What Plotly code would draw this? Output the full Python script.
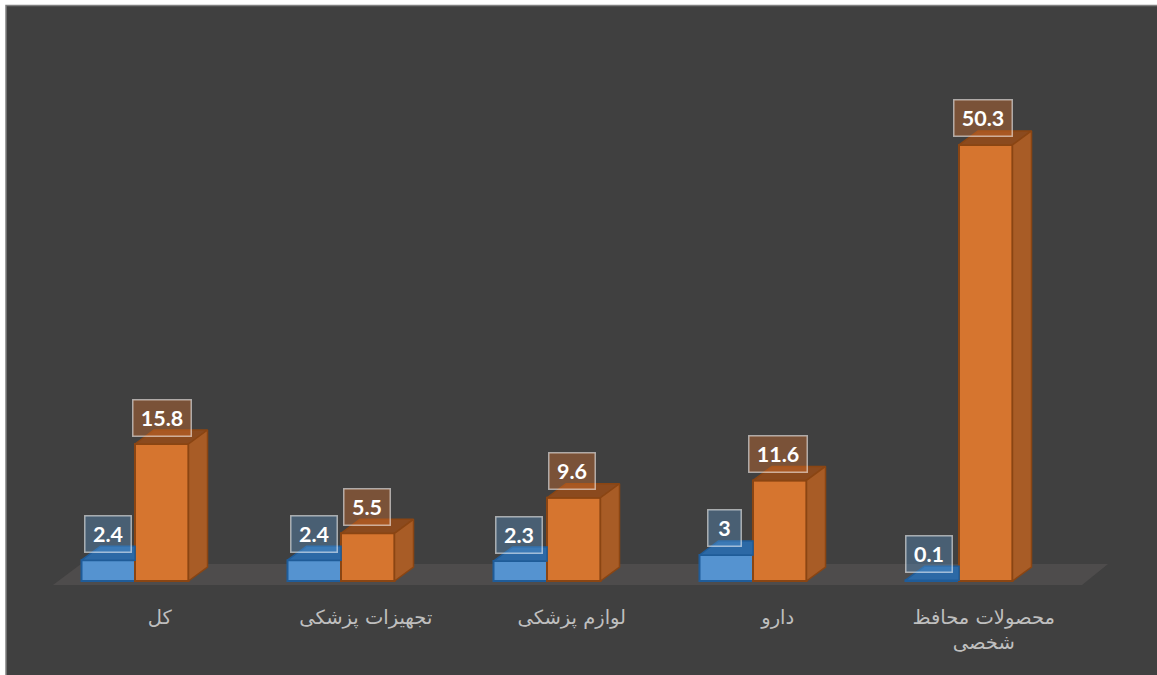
import plotly.graph_objects as go

categories = ["کل", "تجهیزات پزشکی", "لوازم پزشکی", "دارو", "محصولات محافظ<br>شخصی"]
series_blue = [2.4, 2.4, 2.3, 3, 0.1]
series_orange = [15.8, 5.5, 9.6, 11.6, 50.3]

W, H = 1157, 675
PLOT_BOTTOM = 590
BASE_PX = 581
PX_PER_UNIT = 8.67
X0_PX = 135
CAT_PX = 206


def xu(px):
    return (px - X0_PX) / CAT_PX


def yu(px):
    return (BASE_PX - px) / PX_PER_UNIT


BAR_W = 53.5 / CAT_PX
DX = 19 / CAT_PX
DY = 14 / PX_PER_UNIT
idx = list(range(len(categories)))

BLUE, BLUE_LINE, BLUE_TOP = "#5593d0", "#1f5c99", "#2c69a6"
ORANGE, ORANGE_LINE, ORANGE_TOP, ORANGE_SIDE = "#d6752f", "#8a4513", "#8b4a1e", "#a85c26"


def polys(list_of_polys):
    xs, ys = [], []
    for p in list_of_polys:
        for a, b in p + [p[0]]:
            xs.append(a)
            ys.append(b)
        xs.append(None)
        ys.append(None)
    return xs, ys


def face(name, plist, fill, line):
    xs, ys = polys(plist)
    return go.Scatter(x=xs, y=ys, mode="lines", fill="toself", fillcolor=fill,
                      line=dict(color=line, width=1.5), hoverinfo="skip",
                      showlegend=False, name=name)


fig = go.Figure()
fig.add_trace(go.Bar(x=idx, y=series_blue, width=BAR_W, offset=-BAR_W, marker=dict(color=BLUE, line=dict(color=BLUE_LINE, width=2)), showlegend=False))
fig.add_trace(go.Bar(x=idx, y=series_orange, width=BAR_W, offset=0, marker=dict(color=ORANGE, line=dict(color=ORANGE_LINE, width=2)), showlegend=False))

fig.add_trace(face("blue top",
                   [[(i - BAR_W, v), (i, v), (i, v + DY), (i - BAR_W + DX, v + DY)]
                    for i, v in zip(idx, series_blue)], BLUE_TOP, BLUE_LINE))
fig.add_trace(face("orange top",
                   [[(i, v), (i + BAR_W, v), (i + BAR_W + DX, v + DY), (i + DX, v + DY)]
                    for i, v in zip(idx, series_orange)], ORANGE_TOP, ORANGE_LINE))
fig.add_trace(face("orange side",
                   [[(i + BAR_W, 0), (i + BAR_W + DX, DY), (i + BAR_W + DX, v + DY), (i + BAR_W, v)]
                    for i, v in zip(idx, series_orange)], ORANGE_SIDE, ORANGE_LINE))

annotations = []
for series, off, fill in ((series_blue, -BAR_W / 2, "rgba(91,155,213,0.35)"),
                          (series_orange, BAR_W / 2, "rgba(217,114,44,0.38)")):
    for i, v in zip(idx, series):
        txt = str(v)
        annotations.append(dict(
            x=i + off, y=v, xref="x", yref="y", text=f"<b>{txt}</b>", showarrow=False,
            xshift=-0.7 * i, yshift=26.5, yanchor="middle", xanchor="center",
            width=32 if len(txt) == 1 else (45 if len(txt) == 3 else 57), height=35,
            align="center", valign="middle",
            font=dict(family="Lato, Carlito, sans-serif", size=21.5, color="#ffffff"),
            bgcolor=fill, bordercolor="rgba(255,255,255,0.55)", borderwidth=1.5, borderpad=0,
        ))

floor = (f"M {xu(53)} {yu(585)} L {xu(1082)} {yu(585)} "
         f"L {xu(1108)} {yu(564)} L {xu(81)} {yu(564)} Z")

fig.update_layout(
    width=W, height=H,
    margin=dict(l=0, r=0, t=0, b=H - PLOT_BOTTOM, pad=0),
    paper_bgcolor="#ffffff", plot_bgcolor="rgba(0,0,0,0)",
    showlegend=False, barmode="overlay",
    annotations=annotations,
    shapes=[
        dict(type="rect", xref="paper", yref="paper", layer="below",
             x0=6 / W, x1=1.01, y0=-(H - PLOT_BOTTOM + 10) / PLOT_BOTTOM, y1=1 - 5.5 / PLOT_BOTTOM,
             fillcolor="#404040", line=dict(color="#808080", width=1.5)),
        dict(type="path", xref="x", yref="y", layer="below", path=floor,
             fillcolor="#4e4c4c", line=dict(width=0)),
    ],
    xaxis=dict(range=[xu(0), xu(W)], tickmode="array",
               tickvals=[i + 0.12 for i in idx], ticktext=categories,
               showgrid=False, zeroline=False, showline=False, ticks="",
               ticklabelstandoff=13,
               tickfont=dict(family="DejaVu Sans, Noto Sans, sans-serif", size=19.5, color="#bfbfbf")),
    yaxis=dict(range=[yu(PLOT_BOTTOM), yu(0)], visible=False),
)

fig.write_html("out.html", config={"displayModeBar": False},
               post_script="document.body.style.margin='0';document.body.style.overflow='hidden';")
